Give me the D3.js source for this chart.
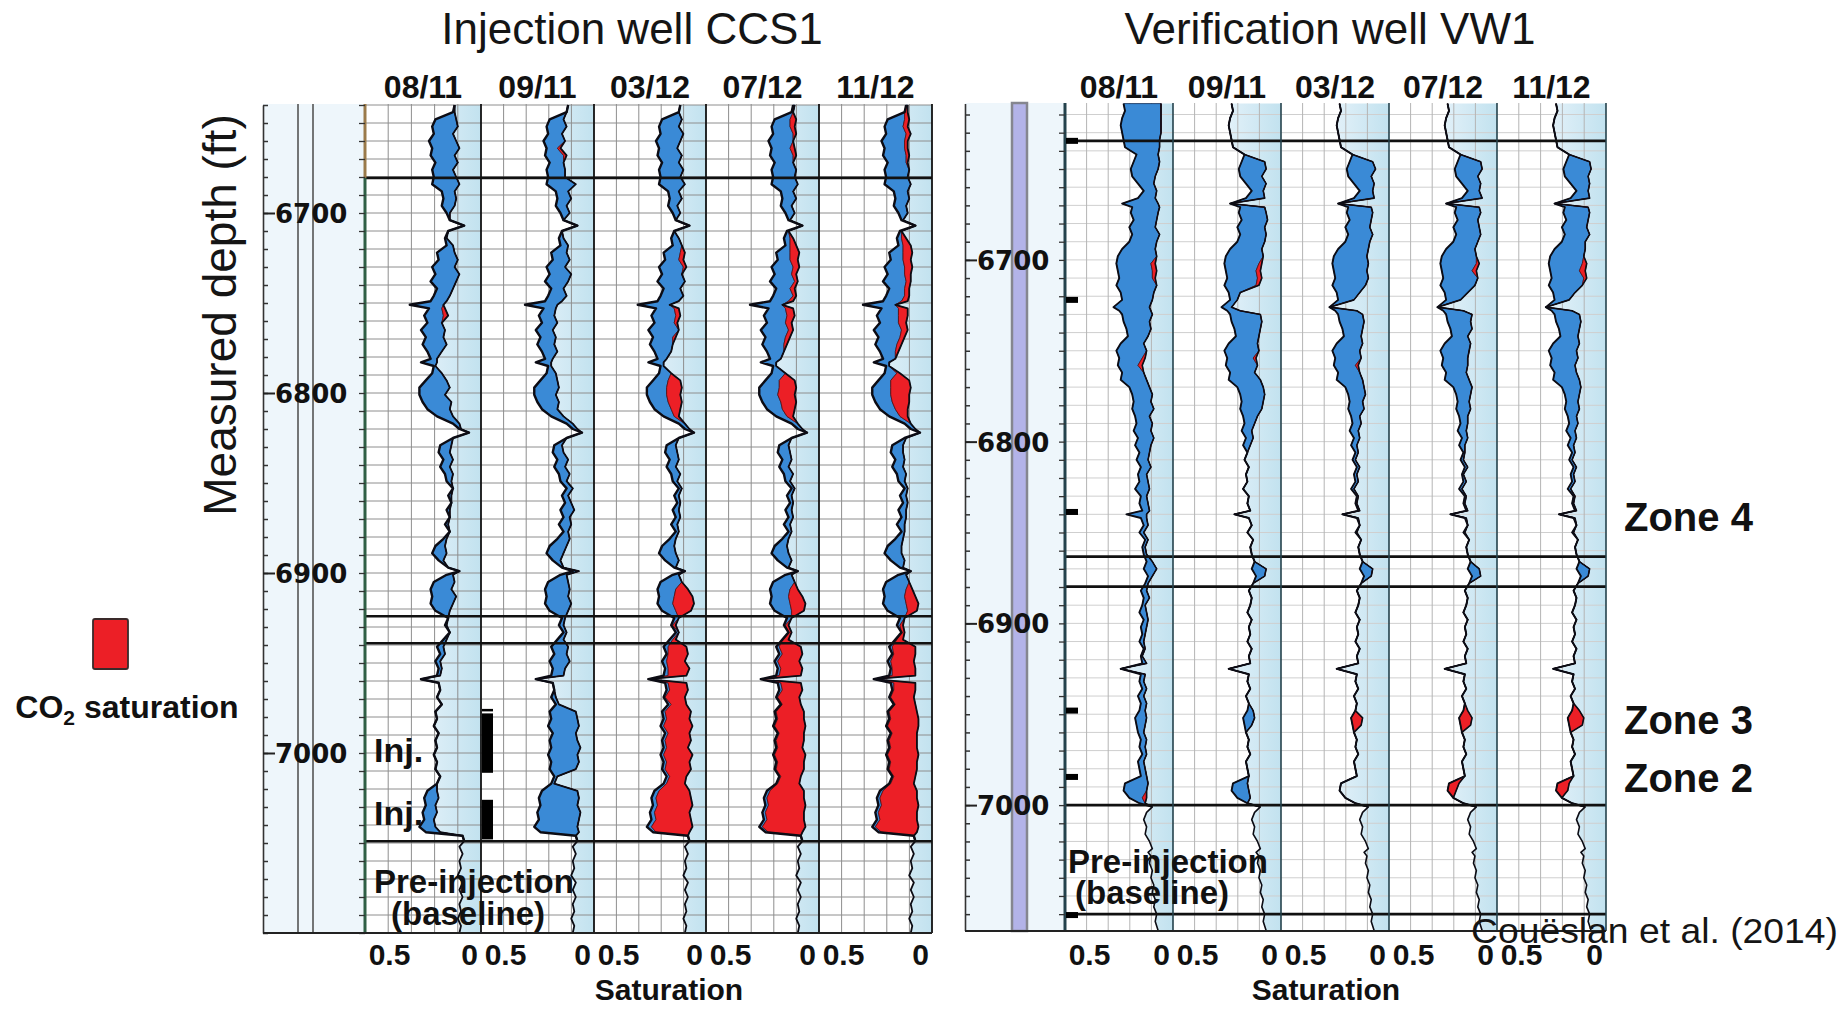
<!DOCTYPE html>
<html>
<head>
<meta charset="utf-8">
<script src="https://cdn.jsdelivr.net/npm/d3@7"></script>
<style>
  html, body { margin: 0; padding: 0; background: #fff; }
  svg { display: block; }
</style>
</head>
<body>
<svg id="chart" width="1845" height="1010"></svg>
<script>
// ---------------------------------------------------------------
// Survey dates (one log track per date)
const surveyDates = ["08/11", "09/11", "03/12", "07/12", "11/12"];
const depthTicks = [6700, 6800, 6900, 7000];
const saturationTicks = [0.5, 0];

// ---------------------------------------------------------------
// Injection well CCS1 : sample depths (ft) and fluid volumes
const ccs1Depth = [
  6640, 6644, 6648, 6652, 6656, 6660, 6664, 6668, 6672, 6676,
  6680, 6684, 6688, 6692, 6696, 6700, 6704, 6707, 6710, 6714,
  6718, 6722, 6726, 6730, 6734, 6738, 6742, 6746, 6749, 6751,
  6753, 6757, 6761, 6765, 6769, 6773, 6777, 6781, 6783, 6785,
  6789, 6793, 6797, 6801, 6805, 6809, 6813, 6817, 6820, 6822,
  6825, 6829, 6833, 6837, 6841, 6845, 6849, 6853, 6857, 6861,
  6865, 6869, 6873, 6877, 6881, 6885, 6889, 6893, 6897, 6899,
  6901, 6905, 6909, 6913, 6917, 6921, 6925, 6929, 6933, 6937,
  6941, 6945, 6949, 6953, 6957, 6959, 6961, 6965, 6969, 6973,
  6977, 6981, 6985, 6989, 6993, 6997, 7001, 7005, 7009, 7013,
  7017, 7021, 7025, 7029, 7033, 7037, 7041, 7044, 7046, 7049
];
// total pore volume (outer curve)
const ccs1Phi = [
  .09,.10,.21,.23,.22,.25,.23,.24,.21,.23,
  .22,.23,.17,.16,.17,.14,.12,.03,.13,.15,
  .14,.20,.19,.23,.21,.24,.20,.22,.24,.37,
  .25,.28,.26,.30,.27,.29,.26,.24,.30,.22,
  .23,.27,.31,.31,.29,.26,.20,.10,.06,.00,
  .10,.18,.19,.16,.18,.15,.14,.10,.13,.11,
  .14,.12,.15,.12,.16,.21,.23,.19,.13,.06,
  .14,.22,.24,.23,.24,.21,.13,.15,.12,.16,
  .20,.18,.21,.19,.20,.30,.19,.18,.20,.17,
  .21,.20,.22,.19,.21,.20,.22,.20,.21,.18,
  .20,.26,.28,.27,.29,.28,.31,.27,.04,.03
];
// water-filled volume (inner curve), one list per survey
const ccs1Water_0811 = [
  .09,.09,.08,.07,.10,.08,.06,.09,.07,.10,
  .08,.06,.09,.08,.09,.12,.12,.03,.13,.14,
  .10,.09,.07,.09,.06,.08,.10,.12,.14,.16,
  .15,.13,.17,.15,.16,.14,.17,.20,.20,.21,
  .17,.14,.12,.15,.11,.12,.10,.06,.05,.00,
  .10,.11,.12,.10,.12,.10,.11,.10,.11,.11,
  .12,.12,.13,.12,.14,.15,.14,.16,.13,.06,
  .10,.09,.11,.08,.10,.12,.13,.14,.12,.14,
  .16,.15,.18,.17,.18,.30,.19,.18,.20,.17,
  .21,.20,.22,.19,.21,.20,.22,.20,.21,.18,
  .20,.20,.19,.21,.20,.22,.21,.18,.04,.03
];
const ccs1Water_0911 = [
  .09,.10,.12,.10,.13,.11,.14,.10,.12,.11,
  .11,.04,.09,.07,.10,.08,.12,.03,.13,.12,
  .09,.10,.08,.11,.07,.09,.12,.10,.13,.16,
  .17,.18,.16,.19,.17,.18,.16,.19,.20,.20,
  .17,.16,.15,.17,.15,.16,.12,.06,.03,.00,
  .10,.13,.12,.09,.11,.08,.10,.06,.09,.07,
  .05,.08,.07,.09,.08,.10,.12,.14,.12,.02,
  .10,.09,.08,.09,.07,.09,.11,.12,.10,.12,
  .09,.10,.08,.11,.12,.30,.19,.18,.17,.15,
  .04,.03,.02,.04,.03,.01,.03,.02,.04,.16,
  .18,.03,.02,.03,.01,.02,.03,.02,.04,.03
];
const ccs1Water_0312 = [
  .09,.10,.08,.10,.07,.09,.11,.08,.10,.07,
  .09,.06,.10,.08,.11,.09,.12,.03,.13,.10,
  .08,.06,.07,.05,.08,.06,.09,.07,.10,.16,
  .10,.09,.11,.10,.12,.14,.15,.18,.20,.20,
  .15,.09,.08,.09,.08,.09,.10,.06,.03,.00,
  .10,.12,.11,.10,.12,.09,.11,.08,.10,.09,
  .10,.09,.11,.10,.12,.13,.12,.10,.12,.06,
  .10,.08,.04,.01,.00,.02,.10,.12,.10,.12,
  .05,.04,.06,.03,.05,.30,.05,.04,.06,.05,
  .02,.03,.01,.03,.02,.04,.01,.03,.02,.05,
  .06,.03,.02,.01,.03,.02,.01,.03,.04,.03
];
const ccs1Water_0712 = [
  .08,.09,.07,.08,.07,.09,.08,.07,.09,.07,
  .08,.06,.09,.07,.10,.08,.11,.03,.12,.09,
  .07,.05,.06,.05,.07,.06,.08,.07,.09,.16,
  .09,.08,.10,.09,.11,.13,.15,.17,.20,.20,
  .14,.08,.07,.08,.07,.08,.09,.06,.03,.00,
  .10,.12,.11,.10,.12,.09,.11,.08,.10,.09,
  .10,.09,.11,.10,.12,.13,.12,.10,.12,.06,
  .10,.08,.06,.03,.01,.02,.10,.12,.10,.12,
  .04,.03,.05,.03,.04,.30,.04,.03,.05,.04,
  .02,.02,.01,.02,.02,.03,.01,.02,.02,.04,
  .05,.02,.02,.01,.02,.02,.01,.03,.04,.03
];
const ccs1Water_1112 = [
  .08,.08,.07,.08,.06,.08,.08,.07,.08,.07,
  .08,.06,.08,.07,.09,.08,.11,.03,.12,.09,
  .06,.05,.06,.05,.06,.06,.07,.07,.08,.16,
  .08,.08,.09,.08,.10,.12,.14,.16,.20,.20,
  .13,.07,.06,.07,.07,.08,.08,.06,.03,.00,
  .09,.11,.11,.10,.11,.09,.10,.08,.09,.08,
  .09,.09,.10,.10,.11,.12,.12,.10,.11,.06,
  .09,.07,.05,.03,.01,.02,.10,.11,.10,.11,
  .03,.03,.04,.03,.03,.30,.03,.03,.04,.03,
  .02,.01,.01,.02,.02,.02,.01,.02,.02,.03,
  .04,.02,.02,.01,.02,.02,.01,.02,.04,.03
];
// CO2-filled volume, [depth, volume] where non-zero
const ccs1Co2_0811 = [[6753,.02],[6757,.03]];
const ccs1Co2_0911 = [[6664,.02],[6668,.02]];
const ccs1Co2_0312 = [
  [6722,.03],[6726,.03],[6730,.02],[6753,.03],[6757,.03],[6761,.02],[6769,.02],
  [6793,.08],[6797,.10],[6801,.09],[6805,.09],[6809,.06],[6813,.03],
  [6909,.08],[6913,.12],[6917,.14],[6921,.10],[6929,.02],[6937,.02],
  [6941,.12],[6945,.13],[6949,.12],[6953,.14],[6957,.12],[6961,.12],[6965,.12],[6969,.13],[6973,.10],
  [6977,.17],[6981,.15],[6985,.19],[6989,.14],[6993,.17],[6997,.14],[7001,.19],[7005,.15],[7009,.17],[7013,.11],
  [7017,.12],[7021,.20],[7025,.23],[7029,.23],[7033,.23],[7037,.23],[7041,.27],[7044,.22]
];
const ccs1Co2_0712 = [
  [6648,.04],[6652,.03],[6656,.02],[6664,.03],[6668,.02],[6714,.02],
  [6718,.04],[6722,.06],[6726,.05],[6730,.04],[6734,.03],[6738,.02],[6742,.03],[6746,.02],[6749,.03],
  [6753,.05],[6757,.05],[6761,.04],[6765,.03],[6769,.03],[6773,.02],
  [6793,.10],[6797,.11],[6801,.11],[6805,.10],[6809,.08],[6813,.04],
  [6909,.05],[6913,.09],[6917,.10],[6921,.08],[6929,.02],[6933,.02],[6937,.04],
  [6941,.14],[6945,.13],[6949,.14],[6953,.14],[6957,.14],[6961,.13],[6965,.13],[6969,.14],[6973,.12],
  [6977,.18],[6981,.17],[6985,.20],[6989,.16],[6993,.18],[6997,.16],[7001,.20],[7005,.17],[7009,.18],[7013,.13],
  [7017,.14],[7021,.22],[7025,.24],[7029,.24],[7033,.25],[7037,.24],[7041,.28],[7044,.22]
];
const ccs1Co2_1112 = [
  [6644,.02],[6648,.03],[6652,.03],[6656,.03],[6660,.02],[6664,.02],[6668,.02],[6672,.01],[6714,.03],
  [6718,.05],[6722,.06],[6726,.05],[6730,.05],[6734,.04],[6738,.03],[6742,.03],[6746,.03],[6749,.04],
  [6753,.06],[6757,.06],[6761,.05],[6765,.04],[6769,.03],[6773,.03],[6777,.02],
  [6789,.02],[6793,.12],[6797,.13],[6801,.12],[6805,.11],[6809,.08],[6813,.05],
  [6909,.04],[6913,.07],[6917,.08],[6921,.06],[6929,.02],[6933,.03],[6937,.04],
  [6941,.15],[6945,.14],[6949,.15],[6953,.15],[6957,.15],[6961,.14],[6965,.14],[6969,.15],[6973,.13],
  [6977,.18],[6981,.18],[6985,.20],[6989,.16],[6993,.18],[6997,.17],[7001,.20],[7005,.17],[7009,.18],[7013,.14],
  [7017,.15],[7021,.22],[7025,.24],[7029,.24],[7033,.25],[7037,.24],[7041,.28],[7044,.23]
];
// pre-injection baseline log below the injection interval
const ccs1BaseDepth = [7049, 7052, 7056, 7060, 7064, 7068, 7072, 7076, 7080, 7084, 7088, 7092, 7096, 7100];
const ccs1Base      = [.03, .06, .04, .06, .05, .07, .04, .06, .04, .06, .05, .07, .05, .06];
// zone boundaries (ft)
const ccs1Zones = [6680.5, 6924, 6939, 7049];
// perforated injection intervals (ft)
const ccs1Perfs = [[6978, 7011], [7026, 7048]];

// ---------------------------------------------------------------
// Verification well VW1
const vw1Depth = [
  6614, 6618, 6622, 6626, 6630, 6634, 6638, 6642, 6646, 6650,
  6654, 6658, 6662, 6666, 6669, 6671, 6674, 6678, 6682, 6686,
  6690, 6694, 6698, 6702, 6706, 6710, 6714, 6718, 6722, 6726,
  6728, 6730, 6734, 6738, 6742, 6746, 6750, 6754, 6758, 6762,
  6766, 6770, 6774, 6778, 6782, 6786, 6790, 6794, 6798, 6802,
  6806, 6810, 6814, 6818, 6822, 6826, 6830, 6834, 6838, 6840,
  6842, 6846, 6850, 6854, 6858, 6862, 6866, 6870, 6874, 6878,
  6882, 6886, 6890, 6894, 6898, 6902, 6906, 6910, 6914, 6918,
  6922, 6925, 6928, 6932, 6936, 6940, 6944, 6948, 6952, 6956,
  6960, 6964, 6968, 6972, 6976, 6980, 6984, 6988, 6992, 6996,
  6999, 7001
];
const vw1Phi = [
  .26,.25,.27,.28,.27,.26,.25,.17,.19,.21,
  .20,.16,.12,.16,.27,.20,.21,.19,.22,.20,
  .22,.27,.30,.31,.30,.29,.31,.28,.27,.33,
  .29,.27,.26,.24,.23,.28,.31,.29,.30,.27,
  .28,.22,.20,.19,.20,.18,.17,.19,.16,.18,
  .15,.17,.14,.16,.15,.18,.14,.15,.13,.24,
  .14,.12,.15,.11,.13,.12,.10,.12,.09,.11,
  .14,.12,.13,.15,.12,.14,.13,.15,.12,.14,
  .13,.28,.14,.15,.13,.16,.14,.15,.18,.17,
  .16,.14,.15,.13,.16,.15,.14,.25,.26,.22,
  .15,.06
];
const vw1Water_0811 = [
  .00,.00,.00,.00,.00,.01,.01,.02,.01,.02,
  .04,.05,.03,.04,.02,.01,.02,.03,.04,.01,
  .03,.04,.03,.04,.03,.04,.03,.05,.06,.08,
  .07,.06,.08,.07,.09,.12,.10,.11,.13,.12,
  .10,.08,.06,.07,.05,.08,.06,.07,.05,.07,
  .08,.09,.07,.10,.09,.08,.10,.09,.08,.10,
  .10,.09,.12,.09,.11,.10,.06,.03,.06,.09,
  .10,.08,.11,.10,.09,.10,.11,.12,.11,.13,
  .10,.28,.11,.12,.10,.12,.10,.11,.10,.11,
  .12,.10,.11,.10,.12,.11,.10,.09,.10,.10,
  .11,.06
];
const vw1Water_0911 = [
  .26,.25,.27,.28,.27,.26,.25,.17,.03,.02,
  .05,.02,.04,.03,.27,.03,.02,.01,.03,.02,
  .03,.05,.04,.05,.06,.05,.07,.20,.22,.26,
  .20,.06,.05,.06,.07,.08,.07,.09,.08,.10,
  .06,.04,.03,.04,.05,.08,.10,.12,.11,.13,
  .15,.17,.14,.16,.15,.18,.14,.15,.13,.24,
  .14,.12,.15,.11,.13,.12,.10,.02,.03,.11,
  .14,.12,.13,.15,.12,.14,.13,.15,.12,.14,
  .13,.28,.14,.15,.13,.16,.14,.11,.10,.12,
  .16,.14,.15,.13,.16,.15,.14,.15,.14,.13,
  .15,.06
];
const vw1Water_0312 = [
  .26,.25,.27,.28,.27,.26,.25,.17,.03,.01,
  .04,.02,.03,.02,.27,.04,.03,.04,.05,.03,
  .05,.06,.07,.06,.07,.06,.08,.12,.16,.33,
  .14,.10,.09,.10,.11,.10,.12,.11,.13,.12,
  .10,.09,.08,.10,.09,.12,.11,.13,.12,.14,
  .13,.15,.12,.14,.13,.16,.13,.14,.12,.24,
  .13,.12,.14,.11,.13,.12,.10,.03,.04,.11,
  .14,.12,.13,.15,.12,.14,.13,.15,.12,.14,
  .13,.28,.14,.15,.13,.16,.14,.15,.10,.11,
  .16,.14,.15,.13,.16,.15,.14,.25,.26,.22,
  .15,.06
];
const vw1Water_0712 = [
  .26,.25,.27,.28,.27,.26,.25,.17,.03,.02,
  .05,.03,.04,.02,.27,.04,.03,.05,.04,.03,
  .05,.07,.06,.04,.06,.05,.07,.12,.17,.33,
  .15,.09,.10,.09,.12,.10,.11,.12,.12,.13,
  .11,.09,.10,.11,.10,.12,.12,.13,.12,.14,
  .14,.15,.12,.15,.13,.16,.13,.14,.12,.24,
  .13,.12,.14,.11,.13,.12,.10,.04,.03,.11,
  .14,.12,.13,.15,.12,.14,.13,.15,.12,.14,
  .13,.28,.14,.15,.13,.16,.14,.12,.09,.10,
  .16,.14,.15,.13,.16,.15,.14,.18,.20,.22,
  .15,.06
];
const vw1Water_1112 = [
  .26,.25,.27,.28,.27,.26,.25,.17,.03,.02,
  .04,.03,.04,.03,.27,.04,.03,.04,.05,.03,
  .06,.06,.07,.05,.06,.05,.08,.13,.17,.33,
  .15,.10,.09,.10,.11,.10,.12,.11,.13,.12,
  .10,.09,.10,.11,.10,.12,.11,.13,.12,.14,
  .13,.15,.12,.14,.13,.16,.13,.14,.12,.24,
  .13,.12,.14,.11,.13,.12,.10,.03,.04,.11,
  .14,.12,.13,.15,.12,.14,.13,.15,.12,.14,
  .13,.28,.14,.15,.13,.16,.14,.10,.07,.08,
  .16,.14,.15,.13,.16,.15,.14,.17,.18,.22,
  .15,.06
];
const vw1Co2_0811 = [[6702,.03],[6706,.03],[6710,.02],[6754,.02],[6758,.03],[6996,.03]];
const vw1Co2_0911 = [[6702,.02],[6706,.03],[6710,.03],[6714,.02],[6754,.02]];
const vw1Co2_0312 = [[6758,.02],[6952,.08],[6956,.06]];
const vw1Co2_0712 = [[6702,.02],[6706,.03],[6948,.03],[6952,.09],[6956,.07],[6988,.07],[6992,.06]];
const vw1Co2_1112 = [[6702,.03],[6706,.04],[6710,.02],[6948,.05],[6952,.11],[6956,.09],[6988,.08],[6992,.08]];
const vw1BaseDepth = [7001, 7004, 7008, 7012, 7016, 7020, 7024, 7026, 7028, 7032, 7036, 7040, 7044, 7048, 7052, 7056, 7060, 7064, 7069];
const vw1Base      = [.06, .10, .12, .10, .11, .08, .06, .09, .07, .08, .06, .07, .05, .06, .04, .05, .03, .04, .02];
const vw1Zones = [6634.5, 6863.3, 6879.8, 7000, 7060];
// tool / packer markers on the depth edge (ft)
const vw1Markers = [6634.5, 6722, 6838.7, 6948, 6984.5, 7060.5];

// ---------------------------------------------------------------
const FONT = '"Liberation Sans", Arial, Helvetica, sans-serif';
const DEPTH_FONT = '"DejaVu Sans", Verdana, sans-serif';
const COLORS = {
  hydrocarbon: "#3a8ad6",
  co2: "#ec1f26",
  co2Edge: "#5b0b0b",
  curve: "#0c0c14",
  waterA: "#e3f1f9",
  waterB: "#c2e2ef",
  column: "#eef6fb"
};

const svg = d3.select("#chart").attr("font-family", FONT);
const defs = svg.append("defs");

const wells = [
  {
    title: "Injection well CCS1",
    depth: ccs1Depth, phi: ccs1Phi,
    water: [ccs1Water_0811, ccs1Water_0911, ccs1Water_0312, ccs1Water_0712, ccs1Water_1112],
    co2: [ccs1Co2_0811, ccs1Co2_0911, ccs1Co2_0312, ccs1Co2_0712, ccs1Co2_1112],
    baseDepth: ccs1BaseDepth, base: ccs1Base, zones: ccs1Zones,
    layout: {
      axisX: 263, edges: [365, 481, 594, 706, 819, 932], top: 104, bottom: 933,
      yDomain: [6640, 7100], yRange: [105, 933], titleX: 632, satX: 669,
      hGrid: "#8e8e8e", vGrid: "#8e8e8e", sep: "#111", sepW: 1.8,
      phiW: 2.4, waterW: 1.8, key: "ccs1"
    }
  },
  {
    title: "Verification well VW1",
    depth: vw1Depth, phi: vw1Phi,
    water: [vw1Water_0811, vw1Water_0911, vw1Water_0312, vw1Water_0712, vw1Water_1112],
    co2: [vw1Co2_0811, vw1Co2_0911, vw1Co2_0312, vw1Co2_0712, vw1Co2_1112],
    baseDepth: vw1BaseDepth, base: vw1Base, zones: vw1Zones,
    layout: {
      axisX: 965, edges: [1065, 1173, 1281, 1389, 1497, 1606], top: 103, bottom: 931,
      yDomain: [6614, 7069], yRange: [103.6, 930.5], titleX: 1330, satX: 1326,
      hGrid: "#cfcfcf", vGrid: "#b4b4b4", sep: "#24424c", sepW: 1.6,
      phiW: 1.9, waterW: 1.6, key: "vw1"
    }
  }
];

wells.forEach(well => {
  const L = well.layout;
  const y = d3.scaleLinear().domain(L.yDomain).range(L.yRange);
  const left0 = L.edges[0], right5 = L.edges[L.edges.length - 1];
  const g = svg.append("g");

  // depth column background
  g.append("rect").attr("x", L.axisX).attr("y", L.top)
    .attr("width", left0 - L.axisX).attr("height", L.bottom - L.top)
    .attr("fill", COLORS.column);
  // track area background
  g.append("rect").attr("x", left0).attr("y", L.top)
    .attr("width", right5 - left0).attr("height", L.bottom - L.top)
    .attr("fill", "#fff");

  // decorations inside the depth column
  if (L.key === "ccs1") {
    [298, 313].forEach(cx => g.append("line")
      .attr("x1", cx).attr("x2", cx).attr("y1", L.top).attr("y2", L.bottom)
      .attr("stroke", "#4a4a4a").attr("stroke-width", 1.5));
  } else {
    g.append("rect").attr("x", 1012).attr("y", L.top).attr("width", 15)
      .attr("height", L.bottom - L.top).attr("fill", "#b3b3e8")
      .attr("stroke", "#85868f").attr("stroke-width", 2.5);
  }

  const minorDepths = d3.range(Math.ceil(L.yDomain[0] / 10) * 10, L.yDomain[1] + 0.1, 10);

  well.water.forEach((waterList, k) => {
    const left = L.edges[k], right = L.edges[k + 1], w = right - left;
    const x = d3.scaleLinear().domain([0.5, 0]).range([left + 24, right - 12]);
    const co2Map = new Map(well.co2[k]);
    const n = Math.min(well.depth.length, well.phi.length, waterList.length);
    const rows = d3.range(n).map(i => {
      const d = well.depth[i];
      const phi = well.phi[i];
      const wv = Math.min(waterList[i], phi);
      const top = Math.min(wv + (co2Map.get(d) || 0), phi);
      return { d, phi, w: wv, c: top };
    });
    const baseRows = well.baseDepth.map((d, i) => ({ d, v: well.base[i] }));

    const clipId = `clip-${L.key}-${k}`;
    defs.append("clipPath").attr("id", clipId).append("rect")
      .attr("x", left).attr("y", L.top).attr("width", w).attr("height", L.bottom - L.top);
    const gradId = `water-${L.key}-${k}`;
    const grad = defs.append("linearGradient").attr("id", gradId)
      .attr("gradientUnits", "userSpaceOnUse")
      .attr("x1", x(0.3)).attr("x2", right).attr("y1", 0).attr("y2", 0);
    grad.append("stop").attr("offset", 0).attr("stop-color", COLORS.waterA);
    grad.append("stop").attr("offset", 1).attr("stop-color", COLORS.waterB);

    const tg = g.append("g").attr("clip-path", `url(#${clipId})`);

    // water (light blue) from the inner curve to the track edge
    const waterArea = d3.area().y(r => y(r.d)).x0(r => x(r.w)).x1(right);
    const baseArea = d3.area().y(r => y(r.d)).x0(r => x(r.v)).x1(right);
    tg.append("path").datum(rows).attr("d", waterArea).attr("fill", `url(#${gradId})`);
    tg.append("path").datum(baseRows).attr("d", baseArea).attr("fill", `url(#${gradId})`);

    // grid
    const grid = tg.append("g");
    grid.selectAll("line.h").data(minorDepths).join("line")
      .attr("x1", left).attr("x2", right)
      .attr("y1", d => y(d)).attr("y2", d => y(d))
      .attr("stroke", L.hGrid).attr("stroke-width", 1);
    grid.selectAll("line.v").data([1, 2, 3, 4]).join("line")
      .attr("x1", j => left + w * j / 5).attr("x2", j => left + w * j / 5)
      .attr("y1", L.top).attr("y2", L.bottom)
      .attr("stroke", L.vGrid).attr("stroke-width", 1);

    // hydrocarbon (blue) and CO2 (red) volumes
    const hcArea = d3.area().y(r => y(r.d)).x0(r => x(r.phi)).x1(r => x(r.c));
    const co2Area = d3.area().y(r => y(r.d)).x0(r => x(r.c)).x1(r => x(r.w));
    tg.append("path").datum(rows).attr("d", hcArea)
      .attr("fill", COLORS.hydrocarbon).attr("stroke", "#0d2a52").attr("stroke-width", 0.8);
    tg.append("path").datum(rows).attr("d", co2Area)
      .attr("fill", COLORS.co2).attr("stroke", COLORS.co2Edge).attr("stroke-width", 0.8);

    // curves
    const phiLine = d3.line().y(r => y(r.d)).x(r => x(r.phi));
    const waterLine = d3.line().y(r => y(r.d)).x(r => x(r.w));
    const baseLine = d3.line().y(r => y(r.d)).x(r => x(r.v));
    tg.append("path").datum(rows).attr("d", waterLine).attr("fill", "none")
      .attr("stroke", COLORS.curve).attr("stroke-width", L.waterW).attr("stroke-linejoin", "round");
    tg.append("path").datum(rows).attr("d", phiLine).attr("fill", "none")
      .attr("stroke", COLORS.curve).attr("stroke-width", L.phiW).attr("stroke-linejoin", "round");
    tg.append("path").datum(baseRows).attr("d", baseLine).attr("fill", "none")
      .attr("stroke", COLORS.curve).attr("stroke-width", L.waterW).attr("stroke-linejoin", "round");

    // saturation axis under each track
    const ax = g.append("g").attr("transform", `translate(0,${L.bottom})`)
      .call(d3.axisBottom(x).tickValues(saturationTicks).tickSize(0)
        .tickFormat(v => v === 0 ? "0" : "0.5"));
    ax.select(".domain").remove();
    ax.selectAll("text").attr("y", 965 - L.bottom).attr("dy", 0)
      .attr("font-family", FONT).attr("font-size", 30).attr("font-weight", "bold").attr("fill", "#111");

    // survey date
    g.append("text").attr("x", (left + right) / 2).attr("y", 98)
      .attr("text-anchor", "middle").attr("font-size", 32).attr("font-weight", "bold")
      .attr("fill", "#111").text(surveyDates[k]);
  });

  // zone boundaries
  g.selectAll("line.zone").data(well.zones).join("line")
    .attr("x1", left0).attr("x2", right5)
    .attr("y1", d => y(d)).attr("y2", d => y(d))
    .attr("stroke", "#111").attr("stroke-width", 2.6);

  // track separators
  g.selectAll("line.sep").data(L.edges.slice(1)).join("line")
    .attr("x1", d => d).attr("x2", d => d).attr("y1", L.top).attr("y2", L.bottom)
    .attr("stroke", L.sep).attr("stroke-width", L.sepW);
  // left edge of the track area
  if (L.key === "ccs1") {
    g.append("line").attr("x1", left0).attr("x2", left0).attr("y1", L.top).attr("y2", y(well.zones[0]))
      .attr("stroke", "#9a7a4a").attr("stroke-width", 3);
    g.append("line").attr("x1", left0).attr("x2", left0).attr("y1", y(well.zones[0])).attr("y2", L.bottom)
      .attr("stroke", "#2f5f45").attr("stroke-width", 3);
  } else {
    g.append("line").attr("x1", left0).attr("x2", left0).attr("y1", L.top).attr("y2", L.bottom)
      .attr("stroke", "#24424c").attr("stroke-width", 3);
  }

  // depth axis: minor ticks, major ticks and labels
  const minorAxis = g.append("g").attr("transform", `translate(${L.axisX},0)`)
    .call(d3.axisRight(y).tickValues(minorDepths).tickSize(5).tickFormat(""));
  minorAxis.select(".domain").remove();
  minorAxis.selectAll("line").attr("stroke", "#333").attr("stroke-width", 1.5);
  const edgeAxis = g.append("g").attr("transform", `translate(${left0},0)`)
    .call(d3.axisLeft(y).tickValues(minorDepths).tickSize(6).tickFormat(""));
  edgeAxis.select(".domain").remove();
  edgeAxis.selectAll("line").attr("stroke", "#333").attr("stroke-width", 1.3);

  const depthAxis = g.append("g").attr("transform", `translate(${L.axisX},0)`)
    .call(d3.axisRight(y).tickValues(depthTicks).tickSize(12).tickSizeOuter(0)
      .tickPadding(0).tickFormat(d3.format("d")));
  depthAxis.select(".domain").attr("stroke", "#333").attr("stroke-width", 1.6);
  depthAxis.selectAll("line").attr("stroke", "#222").attr("stroke-width", 2);
  depthAxis.selectAll("text").attr("font-family", DEPTH_FONT).attr("font-size", 26)
    .attr("font-weight", "bold").attr("fill", "#111").attr("dy", "0.36em");

  // bottom border
  g.append("line").attr("x1", L.axisX).attr("x2", right5)
    .attr("y1", L.bottom).attr("y2", L.bottom).attr("stroke", "#222").attr("stroke-width", 2);

  // titles
  g.append("text").attr("x", L.titleX).attr("y", 44).attr("text-anchor", "middle")
    .attr("font-size", 44).attr("fill", "#151515").text(well.title);
  g.append("text").attr("x", L.satX).attr("y", 1000).attr("text-anchor", "middle")
    .attr("font-size", 30).attr("font-weight", "bold").attr("fill", "#111").text("Saturation");

  well.y = y;
});

// --- annotations on CCS1 ---
const yC = wells[0].y, yV = wells[1].y;
svg.append("g").selectAll("rect").data(ccs1Perfs).join("rect")
  .attr("x", 482).attr("width", 11)
  .attr("y", d => yC(d[0])).attr("height", d => yC(d[1]) - yC(d[0]))
  .attr("fill", "#000");
svg.append("rect").attr("x", 482).attr("width", 11).attr("y", yC(6975.5)).attr("height", 2.5).attr("fill", "#000");

const boldText = (x, y, size, txt, anchor) => svg.append("text")
  .attr("x", x).attr("y", y).attr("font-size", size).attr("font-weight", "bold")
  .attr("text-anchor", anchor || "start").attr("fill", "#111").text(txt);

boldText(374, 762, 34, "Inj.");
boldText(374, 825, 34, "Inj.");
boldText(374, 893, 33, "Pre-injection");
boldText(391, 925, 33, "(baseline)");

// --- annotations on VW1 ---
svg.append("g").selectAll("rect").data(vw1Markers).join("rect")
  .attr("x", 1066).attr("width", 12)
  .attr("y", d => yV(d) - 3).attr("height", 6).attr("fill", "#000");
boldText(1068, 873, 33, "Pre-injection");
boldText(1075, 904, 33, "(baseline)");
boldText(1624, 531, 40, "Zone 4");
boldText(1624, 734, 40, "Zone 3");
boldText(1624, 792, 40, "Zone 2");

svg.append("text").attr("x", 1471).attr("y", 943).attr("font-size", 35)
  .attr("textLength", 367).attr("lengthAdjust", "spacingAndGlyphs")
  .attr("fill", "#151515").text("Couëslan et al. (2014)");

// depth axis title
svg.append("text").attr("transform", "translate(236,315) rotate(-90)")
  .attr("text-anchor", "middle").attr("font-size", 46).attr("fill", "#151515")
  .text("Measured depth (ft)");

// legend
svg.append("rect").attr("x", 93).attr("y", 619).attr("width", 35).attr("height", 50)
  .attr("rx", 2).attr("fill", COLORS.co2).attr("stroke", "#3a2a2a").attr("stroke-width", 1.8);
const leg = svg.append("text").attr("x", 127).attr("y", 718).attr("text-anchor", "middle")
  .attr("font-size", 32).attr("font-weight", "bold").attr("fill", "#111");
leg.append("tspan").text("CO");
leg.append("tspan").attr("font-size", 21).attr("dy", 7).text("2");
leg.append("tspan").attr("dy", -7).text(" saturation");
</script>
</body>
</html>
